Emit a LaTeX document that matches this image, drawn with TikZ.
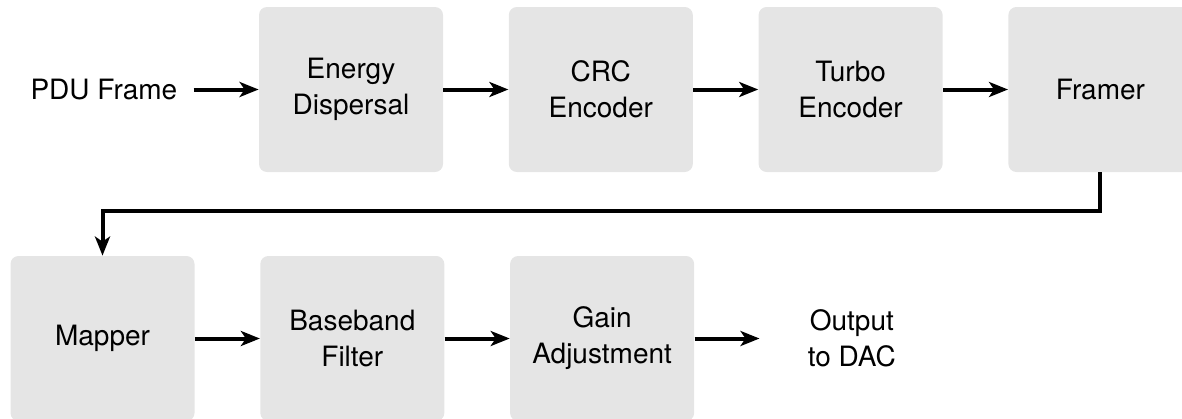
\documentclass[tikz,border=0pt]{standalone}
\usepackage{fontspec}
\setmainfont{TeX Gyre Heros}
\usetikzlibrary{arrows.meta,positioning}
\definecolor{blockgray}{RGB}{229,229,229}

\begin{document}
\begin{tikzpicture}[node distance=32.5pt,every node/.style={font=\fontsize{14pt}{18pt}\selectfont},
  box/.style={fill=blockgray,rounded corners=4pt,align=center,minimum width=92pt,minimum height=82.5pt,inner sep=0pt},
  lbl/.style={align=center,inner sep=8pt},
  flow/.style={-{Stealth[length=9.5pt,width=7.5pt,inset=2.5pt]},line width=2pt}]
  \useasboundingbox (0,0) rectangle (591pt,-209pt);
  \node[box] (disp) at (175.5pt,-44.75pt) {Energy\\Dispersal};
  \node[box,right=of disp] (crc) {CRC\\Encoder};
  \node[box,right=of crc] (turbo) {Turbo\\Encoder};
  \node[box,right=of turbo] (framer) {Framer};
  \node[box] (map) at (51.25pt,-169.25pt) {Mapper};
  \node[box,right=of map] (bb) {Baseband\\Filter};
  \node[box,right=of bb] (gain) {Gain\\Adjustment};
  \node[lbl,left=of disp] (pdu) {PDU Frame};
  \node[lbl,right=of gain,inner xsep=24pt] (out) {Output\\to DAC};
  \draw[flow] (pdu)--(disp); \draw[flow] (disp)--(crc); \draw[flow] (crc)--(turbo); \draw[flow] (turbo)--(framer);
  \draw[flow] (framer.south)--++(0,-19.5pt)-|(map.north);
  \draw[flow] (map)--(bb); \draw[flow] (bb)--(gain); \draw[flow] (gain)--(out);
\end{tikzpicture}
\end{document}
